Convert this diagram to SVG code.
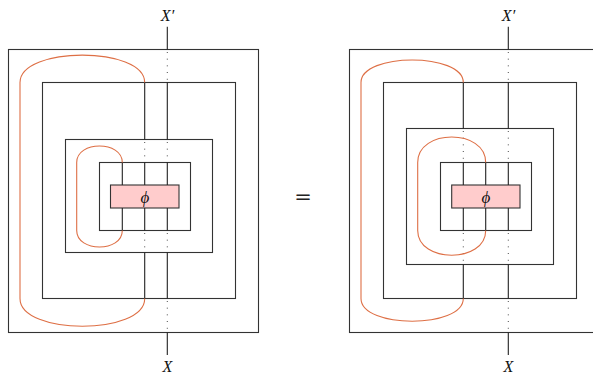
<svg xmlns="http://www.w3.org/2000/svg" width="593" height="374" viewBox="0 0 593 374">
<style>
.box{fill:none;stroke:#333;stroke-width:1.1}
.phi{fill:#ffcccc;stroke:#333;stroke-width:1.1}
.w{stroke:#222;stroke-width:1.1;fill:none}
.d{stroke:#222;stroke-width:0.9;fill:none;stroke-dasharray:0.9 5.8}
.o{stroke:#de6f45;stroke-width:1.1;fill:none}
.t{font-family:"Liberation Serif","DejaVu Serif",serif;font-style:italic;font-size:16px;fill:#111;text-anchor:middle}
</style>
<rect width="593" height="374" fill="#fff"/>
<g id="left">
  <g id="L-box1"><rect class="box" x="8.5" y="49.5" width="250" height="283"/></g>
  <g id="L-box2"><rect class="box" x="42.5" y="82.5" width="193" height="216"/></g>
  <g id="L-box3"><rect class="box" x="65.5" y="139.5" width="147" height="113"/></g>
  <g id="L-box4"><rect class="box" x="99.5" y="162.5" width="91" height="68"/></g>
  <g id="L-phi"><rect class="phi" x="110.5" y="185" width="68.5" height="23"/><text class="t" x="145" y="202.5" style="font-size:17px">ϕ</text></g>
  <g id="L-conn">
    <path class="w" d="M167.3,26.7V49.5M167.3,82.5V139.5M167.3,162.5V185M167.3,208V230.5M167.3,252.5V298.5M167.3,332.5V355"/>
    <path class="d" d="M167.3,52V82.5M167.3,142V162.5M167.3,233V252.5M167.3,301V332.5"/>
    <path class="w" d="M144.7,82.5V139.5M144.7,162.5V185M144.7,208V230.5M144.7,252.5V298.5"/>
    <path class="d" d="M144.7,142V162.5M144.7,233V252.5"/>
    <path class="w" d="M122.3,162.5V185M122.3,208V230.5"/>
    <path class="o" d="M144.7,82.5C144.7,46 20,46 20,82.5V298.5C20,335.5 144.7,335.5 144.7,298.5"/>
    <path class="o" d="M122.3,162.5C122.3,140.5 76.7,140.5 76.7,162.5V230.5C76.7,252.5 122.3,252.5 122.3,230.5"/>
  </g>
  <text class="t" x="167.5" y="21">X′</text>
  <text class="t" x="167.5" y="372">X</text>
</g>
<text x="303" y="204" style="font-family:'DejaVu Serif',serif;font-size:21px;fill:#222;text-anchor:middle">=</text>
<g id="right">
  <g id="R-box1"><rect class="box" x="349.5" y="49.5" width="262" height="283"/></g>
  <g id="R-box2"><rect class="box" x="383.5" y="82.5" width="193" height="216"/></g>
  <g id="R-box3"><rect class="box" x="406.5" y="128.5" width="147" height="136"/></g>
  <g id="R-box4"><rect class="box" x="440.5" y="162.5" width="91" height="68"/></g>
  <g id="R-phi"><rect class="phi" x="451.7" y="185" width="68.3" height="23"/><text class="t" x="486" y="202.5" style="font-size:17px">ϕ</text></g>
  <g id="R-conn">
    <path class="w" d="M508.3,26.7V49.5M508.3,82.5V128.5M508.3,162.5V185M508.3,208V230.5M508.3,264.5V298.5M508.3,332.5V355"/>
    <path class="d" d="M508.3,52V82.5M508.3,131V162.5M508.3,233V264.5M508.3,301V332.5"/>
    <path class="w" d="M463.3,82.5V128.5M463.3,162.5V185M463.3,208V230.5M463.3,264.5V298.5"/>
    <path class="d" d="M463.3,131V162.5M463.3,233V264.5"/>
    <path class="w" d="M485.7,162.5V185M485.7,208V230.5"/>
    <path class="o" d="M463.3,82.5C463.3,52.5 361,52.5 361,82.5V298.5C361,328.8 463.3,328.8 463.3,298.5"/>
    <path class="o" d="M485.7,162.5C485.7,128.5 417.7,128.5 417.7,162.5V230.5C417.7,263.5 485.7,263.5 485.7,230.5"/>
  </g>
  <text class="t" x="508.5" y="21">X′</text>
  <text class="t" x="508.5" y="372">X</text>
</g>
</svg>
